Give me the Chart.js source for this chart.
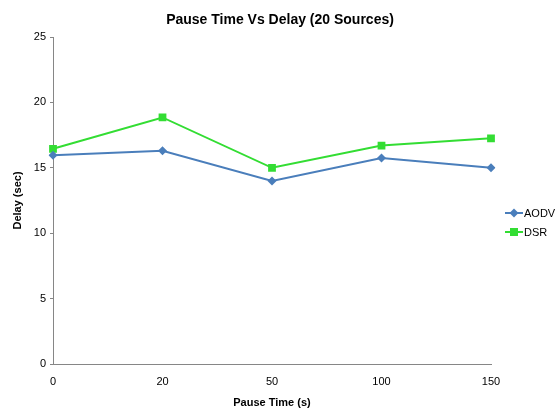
<!DOCTYPE html>
<html>
<head>
<meta charset="utf-8">
<script src="https://cdn.jsdelivr.net/npm/chart.js@4.4.1/dist/chart.umd.min.js"></script>
<style>
  html, body { margin: 0; padding: 0; background: #fff; }
  #wrap { width: 557px; height: 408px; }
</style>
</head>
<body>
<div id="wrap"><canvas id="chart" width="557" height="408"></canvas></div>
<script>
// ----- Data -----
const pauseTimes = ["0", "20", "50", "100", "150"];
const aodvDelay = [15.95, 16.3, 14.0, 15.75, 15.0];
const dsrDelay = [16.45, 18.85, 15.0, 16.7, 17.25];

const titleText = "Pause Time Vs Delay (20 Sources)";
const FONT = "'Liberation Sans', Arial, sans-serif";
const BLUE = "#4A7EBB";
const GREEN = "#33DD33";
const AXIS = "#868686";

// title + legend drawn by hand so they sit where the original has them
const decorPlugin = {
  id: "decor",
  afterDraw(chart) {
    const ctx = chart.ctx;
    ctx.save();
    ctx.fillStyle = "#000";
    ctx.font = "bold 14px " + FONT;
    ctx.textAlign = "center";
    ctx.textBaseline = "middle";
    ctx.fillText(titleText, 280, 20);

    const items = chart.data.datasets.map((ds, i) => ({
      label: ds.label, color: ds.borderColor, style: ds.pointStyle, y: [213, 232][i]
    }));
    items.forEach(it => {
      ctx.strokeStyle = it.color;
      ctx.lineWidth = 2;
      ctx.beginPath();
      ctx.moveTo(505, it.y);
      ctx.lineTo(523, it.y);
      ctx.stroke();
      ctx.fillStyle = it.color;
      ctx.beginPath();
      if (it.style === "rectRot") {
        ctx.moveTo(514, it.y - 4.5);
        ctx.lineTo(518.5, it.y);
        ctx.lineTo(514, it.y + 4.5);
        ctx.lineTo(509.5, it.y);
        ctx.closePath();
      } else {
        ctx.rect(510, it.y - 4, 8, 8);
      }
      ctx.fill();
      ctx.fillStyle = "#000";
      ctx.font = "11px " + FONT;
      ctx.textAlign = "left";
      ctx.fillText(it.label, 524, it.y + 0.5);
    });
    ctx.restore();
  }
};

const ctx = document.getElementById("chart").getContext("2d");
new Chart(ctx, {
  type: "line",
  data: {
    labels: pauseTimes,
    datasets: [
      {
        label: "AODV",
        data: aodvDelay,
        borderColor: BLUE,
        backgroundColor: BLUE,
        borderWidth: 2,
        pointStyle: "rectRot",
        pointRadius: 4.5,
        pointBorderWidth: 0,
        tension: 0
      },
      {
        label: "DSR",
        data: dsrDelay,
        borderColor: GREEN,
        backgroundColor: GREEN,
        borderWidth: 2,
        pointStyle: "rect",
        pointRadius: 5.5,
        pointBorderWidth: 0,
        tension: 0
      }
    ]
  },
  options: {
    responsive: false,
    animation: false,
    layout: { padding: { top: 37, right: 66, left: 0, bottom: 0 } },
    plugins: {
      legend: { display: false },
      title: { display: false },
      tooltip: { enabled: false }
    },
    scales: {
      x: {
        offset: false,
        grid: { display: true, drawOnChartArea: false, drawTicks: false },
        border: { display: true, color: AXIS, width: 1 },
        ticks: { color: "#000", font: { family: FONT, size: 11 }, padding: 11, maxRotation: 0 },
        title: {
          display: true,
          text: "Pause Time (s)",
          color: "#000",
          font: { family: FONT, size: 11, weight: "bold", lineHeight: 1 },
          padding: { top: 0, bottom: 0 }
        },
        afterFit(scale) { scale.height = 44; }
      },
      y: {
        min: 0,
        max: 25,
        ticks: { stepSize: 5, color: "#000", font: { family: FONT, size: 11 }, padding: 4 },
        grid: { display: true, drawOnChartArea: false, drawTicks: true, tickLength: 3, color: AXIS },
        border: { display: true, color: AXIS, width: 1 },
        title: {
          display: true,
          text: "Delay (sec)",
          color: "#000",
          font: { family: FONT, size: 11, weight: "bold", lineHeight: 1.2 },
          padding: { top: 11, bottom: 0 }
        },
        afterFit(scale) { scale.width = 53; }
      }
    }
  },
  plugins: [decorPlugin]
});
</script>
</body>
</html>
